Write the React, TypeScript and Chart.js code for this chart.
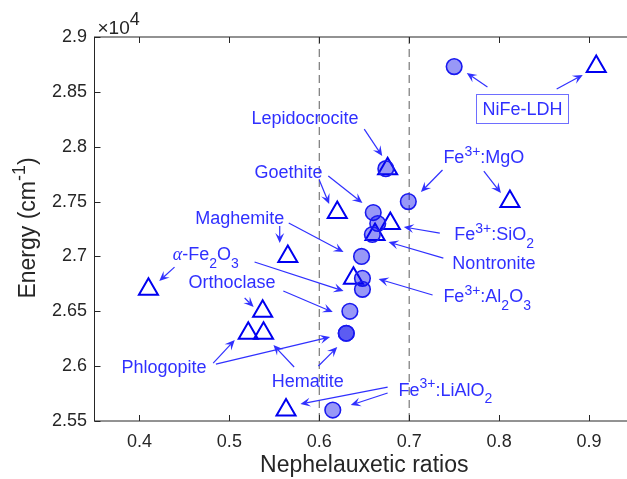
import React, { useEffect, useRef } from "react";
import { Chart, registerables } from "chart.js";

Chart.register(...registerables);

// ---------- data ----------
const materials = [
  "NiFe-LDH", "Lepidocrocite", "Fe3+:MgO", "Goethite", "Fe3+:SiO2", "Nontronite",
  "Maghemite", "Fe3+:Al2O3", "α-Fe2O3", "Orthoclase", "Phlogopite", "Hematite", "Fe3+:LiAlO2",
];
const energies = [28730, 27800, 27500, 27400, 27300, 27200, 27000, 26800, 26700, 26500, 26300, 26300, 25600];
const circleRatios = [0.75, 0.674, 0.699, 0.66, 0.665, 0.659, 0.647, 0.648, 0.648, 0.634, 0.63, 0.63, 0.615];
const triangleRatios = [0.908, 0.676, 0.812, 0.62, 0.679, 0.662, 0.565, 0.638, 0.41, 0.537, 0.521, 0.538, 0.563];

const xTicks = [0.4, 0.5, 0.6, 0.7, 0.8, 0.9];
const yTicks = [25500, 26000, 26500, 27000, 27500, 28000, 28500, 29000];
const xRange = [0.35, 0.95];
const yRange = [25500, 29000];
const dashedRatios = [0.6, 0.7];

// annotation labels (data coords of left-middle; last one centred in a box)
const labelTexts = [
  "Lepidocrocite", "Goethite", "Maghemite", "\\alpha-Fe_{2}O_{3}", "Orthoclase", "Phlogopite",
  "Hematite", "Fe^{3+}:LiAlO_{2}", "Fe^{3+}:MgO", "Fe^{3+}:SiO_{2}", "Nontronite", "Fe^{3+}:Al_{2}O_{3}", "NiFe-LDH",
];
const labelX = [0.5246, 0.528, 0.462, 0.437, 0.4545, 0.38, 0.547, 0.688, 0.738, 0.75, 0.748, 0.738, 0.826];
const labelY = [28262, 27778, 27350, 27022, 26767, 25992, 25873, 25791, 27906, 27204, 26940, 26639, 28344];
const labelBoxed = [false, false, false, false, false, false, false, false, false, false, false, false, true];

// arrows: [x1, y1] -> [x2, y2] in data coords
const arrowFrom = [
  [0.65, 28161], [0.6, 27696], [0.61, 27733], [0.556, 27277], [0.566, 27304],
  [0.439, 26903], [0.528, 26949], [0.517, 26621], [0.56, 26685], [0.482, 26028],
  [0.485, 26019], [0.572, 25992], [0.599, 26001], [0.676, 25809], [0.676, 25755],
  [0.737, 27788], [0.783, 27778], [0.734, 27213], [0.738, 26985], [0.726, 26648],
  [0.787, 28544], [0.864, 28526],
];
const arrowTo = [
  [0.67, 27915], [0.611, 27478], [0.648, 27487], [0.556, 27122], [0.627, 27040],
  [0.422, 26776], [0.627, 26685], [0.527, 26539], [0.615, 26493], [0.506, 26238],
  [0.612, 26265], [0.549, 26192], [0.62, 26174], [0.579, 25654], [0.635, 25645],
  [0.713, 27587], [0.802, 27578], [0.694, 27268], [0.677, 27131], [0.666, 26794],
  [0.764, 28672], [0.893, 28654],
];

const xTitle = "Nephelauxetic ratios";
const yTitle = "Energy (cm^{-1})";
const exponentText = "\\times10^{4}";

// ---------- styles ----------
const FONT = '"Liberation Sans", Arial, Helvetica, sans-serif';
const AXIS = "#262626";
const BLUE_TXT = "rgb(48,48,255)";
const W = 660;
const H = 479;

type Seg = { s: string; k: "n" | "sup" | "sub" | "greek" };

function parseRich(str: string): Seg[] {
  const out: Seg[] = [];
  let i = 0;
  let buf = "";
  const flush = () => {
    if (buf) out.push({ s: buf, k: "n" });
    buf = "";
  };
  while (i < str.length) {
    if (str.startsWith("\\alpha", i)) {
      flush();
      out.push({ s: "α", k: "greek" });
      i += 6;
    } else if (str.startsWith("\\times", i)) {
      buf += "×";
      i += 6;
    } else if ((str[i] === "^" || str[i] === "_") && str[i + 1] === "{") {
      flush();
      const end = str.indexOf("}", i);
      out.push({ s: str.slice(i + 2, end), k: str[i] === "^" ? "sup" : "sub" });
      i = end + 1;
    } else {
      buf += str[i];
      i++;
    }
  }
  flush();
  return out;
}

function segFont(k: Seg["k"], size: number, supScale: number) {
  if (k === "sup" || k === "sub") return `${Math.round(size * supScale)}px ${FONT}`;
  if (k === "greek") return `italic ${size}px "Liberation Serif", "DejaVu Serif", serif`;
  return `${size}px ${FONT}`;
}

function richWidth(ctx: CanvasRenderingContext2D, str: string, size: number, supScale = 0.78) {
  let w = 0;
  for (const seg of parseRich(str)) {
    ctx.font = segFont(seg.k, size, supScale);
    w += ctx.measureText(seg.s).width;
  }
  return w;
}

function drawRich(
  ctx: CanvasRenderingContext2D, str: string, x: number, baseline: number,
  size: number, color: string, align: "left" | "center", supScale = 0.78
) {
  const segs = parseRich(str);
  const total = richWidth(ctx, str, size, supScale);
  let cx = align === "center" ? x - total / 2 : x;
  ctx.save();
  ctx.fillStyle = color;
  ctx.textAlign = "left";
  ctx.textBaseline = "alphabetic";
  for (const seg of segs) {
    ctx.font = segFont(seg.k, size, supScale);
    const dy = seg.k === "sup" ? -size * 0.44 : seg.k === "sub" ? size * 0.42 : 0;
    ctx.fillText(seg.s, cx, baseline + dy);
    cx += ctx.measureText(seg.s).width;
  }
  ctx.restore();
  return total;
}

function drawArrow(ctx: CanvasRenderingContext2D, x1: number, y1: number, x2: number, y2: number) {
  const ang = Math.atan2(y2 - y1, x2 - x1);
  const c = Math.cos(ang);
  const s = Math.sin(ang);
  const L = 10;
  const hw = 4.5;
  ctx.beginPath();
  ctx.moveTo(x1, y1);
  ctx.lineTo(x2 - c * L * 0.6, y2 - s * L * 0.6);
  ctx.stroke();
  ctx.beginPath();
  ctx.moveTo(x2, y2);
  ctx.lineTo(x2 - c * L - s * hw, y2 - s * L + c * hw);
  ctx.lineTo(x2 - c * L * 0.6, y2 - s * L * 0.6);
  ctx.lineTo(x2 - c * L + s * hw, y2 - s * L - c * hw);
  ctx.closePath();
  ctx.fill();
}

const decorPlugin = {
  id: "decor",
  afterDatasetsDraw(chart: any) {
    const { ctx, scales } = chart;
    const xs = scales.x;
    const ys = scales.y;
    ctx.save();
    ctx.strokeStyle = BLUE_TXT;
    ctx.fillStyle = BLUE_TXT;
    ctx.lineWidth = 1.2;
    for (let i = 0; i < arrowFrom.length; i++) {
      drawArrow(
        ctx,
        xs.getPixelForValue(arrowFrom[i][0]), ys.getPixelForValue(arrowFrom[i][1]),
        xs.getPixelForValue(arrowTo[i][0]), ys.getPixelForValue(arrowTo[i][1])
      );
    }
    const size = 18;
    for (let i = 0; i < labelTexts.length; i++) {
      const px = xs.getPixelForValue(labelX[i]);
      const py = ys.getPixelForValue(labelY[i]);
      const base = py + size * 0.358;
      if (labelBoxed[i]) {
        const w = richWidth(ctx, labelTexts[i], size);
        ctx.strokeStyle = "rgb(110,110,255)";
        ctx.lineWidth = 1;
        ctx.strokeRect(Math.round(px - w / 2 - 6) + 0.5, Math.round(py - 14.5) + 0.5, Math.round(w + 12), 29);
        drawRich(ctx, labelTexts[i], px, base, size, BLUE_TXT, "center");
      } else {
        drawRich(ctx, labelTexts[i], px, base, size, BLUE_TXT, "left");
      }
    }
    ctx.restore();
  },
  afterDraw(chart: any) {
    const { ctx, chartArea: a, scales } = chart;
    const xs = scales.x;
    const ys = scales.y;
    ctx.save();
    ctx.strokeStyle = AXIS;
    ctx.lineWidth = 1;
    ctx.strokeRect(a.left, a.top, a.right - a.left, a.bottom - a.top);
    const tl = 6;
    ctx.beginPath();
    for (const v of xTicks) {
      const p = Math.round(xs.getPixelForValue(v)) + 0.5;
      ctx.moveTo(p, a.bottom);
      ctx.lineTo(p, a.bottom - tl);
      ctx.moveTo(p, a.top);
      ctx.lineTo(p, a.top + tl);
    }
    for (const v of yTicks) {
      const p = Math.round(ys.getPixelForValue(v)) + 0.5;
      ctx.moveTo(a.left, p);
      ctx.lineTo(a.left + tl, p);
      ctx.moveTo(a.right, p);
      ctx.lineTo(a.right - tl, p);
    }
    ctx.stroke();
    drawRich(ctx, xTitle, (a.left + a.right) / 2, 472, 23, AXIS, "center");
    ctx.save();
    ctx.translate(35, (a.top + a.bottom) / 2 - 1);
    ctx.rotate(-Math.PI / 2);
    drawRich(ctx, yTitle, 0, 0, 23, AXIS, "center");
    ctx.restore();
    drawRich(ctx, exponentText, a.left + 3, 33.5, 19, AXIS, "left", 0.95);
    ctx.restore();
  },
};

export default function App() {
  const ref = useRef<HTMLCanvasElement | null>(null);

  useEffect(() => {
    if (!ref.current) return;
    const circles = energies.map((e, i) => ({ x: circleRatios[i], y: e }));
    const triangles = energies.map((e, i) => ({ x: triangleRatios[i], y: e }));
    const dashSets = dashedRatios.map((r) => ({
      type: "line" as const,
      label: `ratio ${r}`,
      data: [{ x: r, y: yRange[0] }, { x: r, y: yRange[1] }],
      borderColor: "rgb(120,120,120)",
      borderWidth: 1.2,
      borderDash: [8, 5],
      pointRadius: 0,
      fill: false,
      order: 5,
    }));
    const chart = new Chart(ref.current, {
      type: "scatter",
      data: {
        datasets: [
          {
            label: "Circles",
            data: circles,
            pointStyle: "circle",
            pointRadius: 7.8,
            backgroundColor: "rgba(10,10,235,0.42)",
            borderColor: "rgb(25,25,240)",
            borderWidth: 1.6,
            order: 1,
          },
          {
            label: "Triangles",
            data: triangles,
            pointStyle: "triangle",
            pointRadius: 11,
            backgroundColor: "rgba(0,0,0,0)",
            borderColor: "rgb(0,0,240)",
            borderWidth: 2,
            order: 2,
          },
          ...dashSets,
        ] as any,
      },
      options: {
        animation: false,
        responsive: false,
        devicePixelRatio: 1,
        events: [],
        layout: { padding: { top: 37, right: W - 634, left: 0, bottom: 0 } },
        plugins: { legend: { display: false }, tooltip: { enabled: false } },
        scales: {
          x: {
            type: "linear",
            min: xRange[0],
            max: xRange[1],
            grid: { display: false, drawTicks: false },
            border: { display: false },
            afterBuildTicks: (s: any) => {
              s.ticks = xTicks.map((v) => ({ value: v }));
            },
            afterFit: (s: any) => {
              s.height = H - 421;
            },
            ticks: {
              autoSkip: false,
              maxRotation: 0,
              padding: 10,
              color: AXIS,
              font: { family: FONT, size: 18 },
              callback: (v: any) => String(v),
            },
          },
          y: {
            type: "linear",
            min: yRange[0],
            max: yRange[1],
            grid: { display: false, drawTicks: false },
            border: { display: false },
            afterBuildTicks: (s: any) => {
              s.ticks = yTicks.map((v) => ({ value: v }));
            },
            afterFit: (s: any) => {
              s.width = 94.5;
            },
            ticks: {
              autoSkip: false,
              padding: 7.5,
              color: AXIS,
              font: { family: FONT, size: 18 },
              callback: (v: any) => String(Number(v) / 10000),
            },
          },
        },
      } as any,
      plugins: [decorPlugin],
    });
    return () => chart.destroy();
  }, []);

  return (
    <div
      style={{
        position: "fixed",
        left: 0,
        top: 0,
        width: 627,
        height: H,
        overflow: "hidden",
        background: "#ffffff",
      }}
    >
      <canvas ref={ref} width={W} height={H} style={{ width: W, height: H, display: "block" }} aria-label={materials.join(", ")} />
    </div>
  );
}
